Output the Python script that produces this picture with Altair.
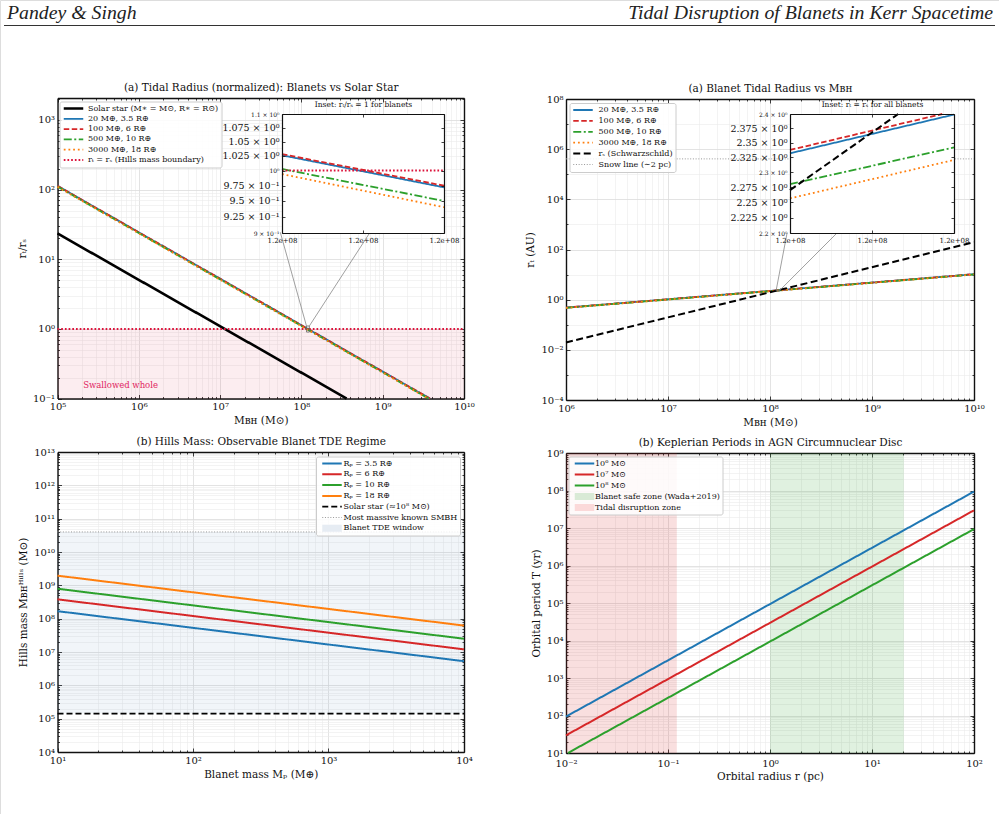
import altair as alt
import pandas as pd

W, H = 999, 814
FONT = "DejaVu Serif"
HFONT = "Liberation Serif"
SUP = str.maketrans("-0123456789", "⁻⁰¹²³⁴⁵⁶⁷⁸⁹")
GRID_MAJ = "#dcdcdc"
GRID_MIN = "#ebebeb"

# ============================ data ============================
# Panel (a) left: r_t / r_s versus M_BH (end points of straight log-log lines)
A_names = ["Solar star (M∗ = M⊙, R∗ = R⊙)", "20 M⊕, 3.5 R⊕", "100 M⊕, 6 R⊕",
           "500 M⊕, 10 R⊕", "3000 M⊕, 18 R⊕", "rₜ = rₛ (Hills mass boundary)"]
A_mbh = [[1e5, 3.6e8], [1e5, 3.80e9], [1e5, 3.81e9], [1e5, 3.67e9], [1e5, 3.62e9], [1e5, 1e10]]
A_ratio = [[23.5, 0.1], [113.1, 0.1], [113.3, 0.1], [110.5, 0.1], [109.5, 0.1], [1.0, 1.0]]
A_zone_mbh = [1e5, 1e10]
A_zone_ratio = [0.1, 1.0]
A_note = ["Swallowed whole"]
A_note_mbh = [2.07e5]
A_note_ratio = [0.156]
A_inset_names = A_names[1:]
A_inset_mbh = [[1.155e8, 1.252e8]] * 5
A_inset_ratio = [[1.026, 0.972], [1.028, 0.9747], [1.0026, 0.950], [0.994, 0.940], [1.0, 1.0]]
A_inset_yticks = [0.9, 0.925, 0.95, 0.975, 1.0, 1.025, 1.05, 1.075, 1.1]
A_inset_ylabels = ["9 × 10⁻¹", "9.25 × 10⁻¹", "9.5 × 10⁻¹", "9.75 × 10⁻¹", "10⁰",
                   "1.025 × 10⁰", "1.05 × 10⁰", "1.075 × 10⁰", "1.1 × 10⁰"]
A_inset_small = [0.9, 1.0, 1.1]
A_inset_xticks = [1.155e8, 1.2035e8, 1.252e8]
A_box_mbh = [1.155e8, 1.252e8]
A_box_ratio = [0.9, 1.1]
A_link_mbh0 = [1.155e8, 1.252e8]
A_link_ratio0 = [1.1, 1.1]
A_link_mbh1 = [5.5e7, 7.0e8]
A_link_ratio1 = [24.4, 24.4]

# Panel (a) right: tidal radius in AU versus M_BH
B_names = ["20 M⊕, 3.5 R⊕", "100 M⊕, 6 R⊕", "500 M⊕, 10 R⊕", "3000 M⊕, 18 R⊕",
           "rₛ (Schwarzschild)", "Snow line (∼2 pc)"]
B_mbh = [[1e6, 1e10]] * 6
B_rt = [[0.481, 10.35], [0.4822, 10.38], [0.472, 10.15], [0.468, 10.07], [0.0197, 197], [4.1e5, 4.1e5]]
B_inset_names = B_names[:5]
B_inset_mbh = [[1.15e8, 1.252e8], [1.15e8, 1.2447e8], [1.15e8, 1.252e8], [1.15e8, 1.252e8], [1.15e8, 1.2173e8]]
B_inset_rt = [[2.332, 2.399], [2.3377, 2.4], [2.280, 2.342], [2.2564, 2.3207], [2.270, 2.4]]
B_inset_yticks = [2.2, 2.225, 2.25, 2.275, 2.3, 2.325, 2.35, 2.375, 2.4]
B_inset_ylabels = ["2.2 × 10⁰", "2.225 × 10⁰", "2.25 × 10⁰", "2.275 × 10⁰", "2.3 × 10⁰",
                   "2.325 × 10⁰", "2.35 × 10⁰", "2.375 × 10⁰", "2.4 × 10⁰"]
B_inset_small = [2.2, 2.3, 2.4]
B_inset_xticks = [1.15e8, 1.201e8, 1.252e8]
B_box_mbh = [1.15e8, 1.252e8]
B_box_rt = [2.2, 2.4]
B_link_mbh0 = [1.15e8, 1.252e8]
B_link_rt0 = [2.4, 2.4]
B_link_mbh1 = [1.47e8, 4.54e8]
B_link_rt1 = [456, 456]

# Panel (b) left: Hills mass versus blanet mass
C_names = ["Rₚ = 3.5 R⊕", "Rₚ = 6 R⊕", "Rₚ = 10 R⊕", "Rₚ = 18 R⊕",
           "Solar star (≈10⁸ M⊙)", "Most massive known SMBH", "Blanet TDE window"]
C_mp = [[10, 1e4]] * 6
C_mhills = [[1.68e8, 5.3e6], [3.8e8, 1.2e7], [7.9e8, 2.5e7], [1.95e9, 6.2e7], [1.42e5, 1.42e5], [4e10, 4e10]]
C_window_mp = [10, 1e4]
C_window_m = [1.42e5, 4e10]

# Panel (b) right: Keplerian periods
D_names = ["10⁶ M⊙", "10⁷ M⊙", "10⁸ M⊙", "Blanet safe zone (Wada+2019)", "Tidal disruption zone"]
D_r = [[0.01, 100], [0.01, 100], [0.01044, 100]]
D_T = [[93.7, 9.37e7], [29.6, 2.96e7], [10, 9.37e6]]
D_safe_r = [1, 20.5]
D_tidal_r = [0.01, 0.122]
D_zone_T = [10, 1e9]

# ============================ styles ============================
SOLID, DASH, DASHDOT, DOT = [1, 0], [5.5, 2.5], [8, 2.5, 2, 2.5], [1.8, 2.9]
STY = {
    A_names[0]: ("#000000", SOLID, 2.6),
    "20 M⊕, 3.5 R⊕": ("#1f77b4", SOLID, 1.8),
    "100 M⊕, 6 R⊕": ("#d62728", DASH, 1.8),
    "500 M⊕, 10 R⊕": ("#2ca02c", DASHDOT, 1.8),
    "3000 M⊕, 18 R⊕": ("#ff7f0e", DOT, 1.8),
    A_names[5]: ("#dc143c", [1.7, 2.0], 2.0),
    "rₛ (Schwarzschild)": ("#000000", [7, 3.5], 2.0),
    "Snow line (∼2 pc)": ("#999999", [1, 1.7], 1.0),
    "Rₚ = 3.5 R⊕": ("#1f77b4", SOLID, 2.0),
    "Rₚ = 6 R⊕": ("#d62728", SOLID, 2.0),
    "Rₚ = 10 R⊕": ("#2ca02c", SOLID, 2.0),
    "Rₚ = 18 R⊕": ("#ff7f0e", SOLID, 2.0),
    "Solar star (≈10⁸ M⊙)": ("#000000", [6, 3], 1.8),
    "Most massive known SMBH": ("#999999", [1, 1.7], 1.0),
    "Blanet TDE window": ("#e6ecf3", SOLID, 7),
    "10⁶ M⊙": ("#1f77b4", SOLID, 2.0),
    "10⁷ M⊙": ("#d62728", SOLID, 2.0),
    "10⁸ M⊙": ("#2ca02c", SOLID, 2.0),
    "Blanet safe zone (Wada+2019)": ("#d9ead6", SOLID, 7),
    "Tidal disruption zone": ("#fbd9d9", SOLID, 7),
}

# ============================ geometry ============================
def geo(xd, xr, yd, yr, xt="log", yt="log"):
    return dict(xd=xd, xr=xr, yd=yd, yr=yr, xt=xt, yt=yt)

PA = geo([1e5, 1e10], [57.5, 464], [0.1, 2070], [398.5, 98])
PB = geo([1e6, 1e10], [566, 974], [1e-4, 1e8], [400, 99])
PC = geo([10, 1e4], [57.5, 464], [1e4, 1e13], [752, 452])
PD = geo([0.01, 100], [566, 974], [10, 1e9], [753, 453])
IA = geo([1.155e8, 1.252e8], [282, 444], [0.9, 1.1], [233, 114], xt="linear")
IB = geo([1.15e8, 1.252e8], [790, 954], [2.2, 2.4], [233, 114], xt="linear")


def scale(t, d, r):
    kw = dict(type=t, domain=d, range=r, nice=False)
    if t == "linear":
        kw["zero"] = False
    return alt.Scale(**kw)


def X(P, field="x", axis=None):
    return alt.X(f"{field}:Q", scale=scale(P["xt"], P["xd"], P["xr"]), axis=axis)


def Y(P, field="y", axis=None):
    return alt.Y(f"{field}:Q", scale=scale(P["yt"], P["yd"], P["yr"]), axis=axis)


def decades(a, b, step=1):
    out, e = [], a
    while e <= b:
        out.append(10.0 ** e)
        e += step
    return out


def minors(a, b):
    out = []
    for e in range(a, b):
        for k in range(2, 10):
            out.append(k * 10.0 ** e)
    return out


def pow_expr(lo, hi):
    s = "''"
    for e in range(hi, lo - 1, -1):
        s = f"round(log(datum.value)/LN10)=={e}?'10{str(e).translate(SUP)}':{s}"
    return s


def map_expr(values, labels):
    s = "''"
    for v, l in reversed(list(zip(values, labels))):
        s = f"abs(datum.value-({v}))<{abs(v) * 1e-6 + 1e-12}?'{l}':{s}"
    return s


def mk_axis(orient, edge, values, labels=False, expr=None, lsize=10.0, lpad=7.0,
            tick=4.0, domain=False, grid=False, gcolor=GRID_MAJ, gwidth=0.8,
            title=None, tsize=10.5, tpad=4.0, z=0, dwidth=1.4):
    off = {"left": -edge, "top": -edge, "right": edge - W, "bottom": edge - H}[orient]
    kw = dict(orient=orient, offset=off, values=values, grid=grid, domain=domain,
              ticks=True, tickSize=alt.ExprRef(expr=f"{-tick}"), tickColor="#111111",
              tickWidth=0.8, labels=labels, zindex=z, title=title)
    if grid:
        kw.update(gridColor=gcolor, gridWidth=gwidth)
    if domain:
        kw.update(domainColor="#111111", domainWidth=dwidth)
    if labels:
        kw.update(labelExpr=expr, labelFont=FONT, labelFontSize=lsize, labelColor="#111111",
                  labelPadding=lpad, labelOverlap=False, labelFlush=False)
    if title is not None:
        kw.update(titleFont=FONT, titleFontSize=tsize, titleFontWeight="normal",
                  titleColor="#111111", titlePadding=tpad)
    return alt.Axis(**kw)


def carrier(P, xaxis, yaxis):
    df = pd.DataFrame({"x": [P["xd"][0]], "y": [P["yd"][0]]})
    return alt.Chart(df).mark_point(opacity=0, size=1).encode(x=X(P, axis=xaxis), y=Y(P, axis=yaxis))


def frame(P, xmaj, xmin, ymaj, ymin, xexpr, yexpr, title, xtitle, ytitle, xtpad=4, ytpad=5, xlpad=7):
    xl, xr = P["xr"]
    yb, yt = P["yr"]
    return [
        carrier(P, mk_axis("top", yt, xmin, tick=2, grid=True, gcolor=GRID_MIN, gwidth=0.6),
                mk_axis("left", xl, ymin, tick=2, grid=True, gcolor=GRID_MIN, gwidth=0.6)),
        carrier(P, mk_axis("bottom", yb, xmin, tick=2), mk_axis("right", xr, ymin, tick=2)),
        carrier(P, mk_axis("top", yt, xmaj, domain=True, grid=True, title=title, tsize=10.5, tpad=5),
                mk_axis("right", xr, ymaj, domain=True)),
        carrier(P, mk_axis("bottom", yb, xmaj, labels=True, expr=xexpr, lpad=xlpad, domain=True,
                           title=xtitle, tpad=xtpad),
                mk_axis("left", xl, ymaj, labels=True, expr=yexpr, lpad=7, domain=True, grid=True,
                        title=ytitle, tpad=ytpad)),
    ]


def inset_frame(P, xticks, yticks, ylabels, small, title):
    xl, xr = P["xr"]
    yb, yt = P["yr"]
    test = " || ".join(f"abs(datum.value-({v}))<1e-9" for v in small)
    lfs = {"condition": {"test": test, "value": 6}, "value": 9.5}
    return [
        carrier(P, mk_axis("top", yt, xticks, tick=3, domain=True, title=title, tsize=7.5, tpad=5,
                           z=1, dwidth=1.2),
                mk_axis("right", xr, yticks, tick=3, domain=True, z=1, dwidth=1.2)),
        carrier(P, mk_axis("bottom", yb, xticks, labels=True, expr="'1.2e+08'", lsize=7, lpad=6, tick=3,
                           domain=True, z=1, dwidth=1.2),
                mk_axis("left", xl, yticks, labels=True, expr=map_expr(yticks, ylabels),
                        lsize=lfs, lpad=6, tick=3, domain=True, z=1, dwidth=1.2)),
    ]


def line_df(names, xs, ys):
    rows = []
    for n, xx, yy in zip(names, xs, ys):
        for i, (a, b) in enumerate(zip(xx, yy)):
            rows.append({"s": n, "x": a, "y": b, "o": i})
    return pd.DataFrame(rows)


def mk_legend(x, y, rowpad=1.5, lo=3.0):
    return alt.Legend(orient="none", legendX=x, legendY=y, title=None, columns=1,
                      symbolType="stroke", symbolSize=380, clipHeight=9, rowPadding=rowpad,
                      labelFont=FONT, labelFontSize=8, labelColor="#111111", labelLimit=400,
                      labelOffset=alt.ExprRef(expr=f"{lo}"),
                      fillColor="rgba(255,255,255,0.85)", strokeColor="#cccccc",
                      cornerRadius=2, padding=2.5)


def lines(P, names, xs, ys, dom=None, legend=None):
    dom = dom or names
    df = line_df(names, xs, ys)
    return alt.Chart(df).mark_line(strokeCap="butt").encode(
        x=X(P), y=Y(P),
        color=alt.Color("s:N", scale=alt.Scale(domain=dom, range=[STY[n][0] for n in dom]), legend=legend),
        strokeDash=alt.StrokeDash("s:N", scale=alt.Scale(domain=dom, range=[STY[n][1] for n in dom]),
                                  legend=legend),
        strokeWidth=alt.StrokeWidth("s:N", scale=alt.Scale(type="ordinal", domain=dom,
                                                            range=[STY[n][2] for n in dom]), legend=legend),
        order=alt.Order("o:Q"),
    )


def band(P, xv, yv, color, opacity):
    df = pd.DataFrame({"x": [xv[0]], "x2": [xv[1]], "y": [yv[0]], "y2": [yv[1]]})
    return alt.Chart(df).mark_rect(color=color, opacity=opacity).encode(
        x=X(P), x2="x2:Q", y=Y(P), y2="y2:Q")


def box(P, xv, yv):
    df = pd.DataFrame({"x": [xv[0]], "x2": [xv[1]], "y": [yv[0]], "y2": [yv[1]]})
    return alt.Chart(df).mark_rect(fillOpacity=0, stroke="#666666", strokeWidth=0.8).encode(
        x=X(P), x2="x2:Q", y=Y(P), y2="y2:Q")


def links(P, x0, y0, x1, y1):
    df = pd.DataFrame({"x": x0, "y": y0, "x2": x1, "y2": y1})
    return alt.Chart(df).mark_rule(color="#888888", strokeWidth=0.8).encode(
        x=X(P), y=Y(P), x2="x2:Q", y2="y2:Q")


def white(P):
    df = pd.DataFrame({"x": [P["xd"][0]], "x2": [P["xd"][1]], "y": [P["yd"][0]], "y2": [P["yd"][1]]})
    return alt.Chart(df).mark_rect(color="white", opacity=1).encode(
        x=X(P), x2="x2:Q", y=Y(P), y2="y2:Q")


# ============================ header ============================
hdr = pd.DataFrame({"t": ["Pandey & Singh"]})
hdr2 = pd.DataFrame({"t": ["Tidal Disruption of Blanets in Kerr Spacetime"]})
header = [
    alt.Chart(hdr).mark_text(font=HFONT, fontStyle="italic", fontSize=19.8, align="left",
                             baseline="alphabetic", color="#222222").encode(
        text="t:N", x=alt.value(7), y=alt.value(19)),
    alt.Chart(hdr2).mark_text(font=HFONT, fontStyle="italic", fontSize=19.8, align="right",
                              baseline="alphabetic", color="#222222").encode(
        text="t:N", x=alt.value(993), y=alt.value(19)),
    alt.Chart(hdr).mark_rule(color="#333333", strokeWidth=1.1).encode(
        x=alt.value(4), x2=alt.value(995), y=alt.value(25.5)),
]

layers = list(header)

# ---------------- panel A ----------------
layers += frame(PA, decades(5, 10), minors(5, 10), decades(-1, 3), minors(-1, 4),
                pow_expr(5, 10), pow_expr(-1, 3),
                "(a) Tidal Radius (normalized): Blanets vs Solar Star", "Mʙʜ (M⊙)", "rₜ/rₛ")
layers.append(band(PA, A_zone_mbh, A_zone_ratio, "#dc143c", 0.08))
layers.append(lines(PA, A_names, A_mbh, A_ratio, legend=mk_legend(59.5, 101.5, rowpad=1.3)))
note = pd.DataFrame({"t": A_note, "x": A_note_mbh, "y": A_note_ratio})
layers.append(alt.Chart(note).mark_text(font=FONT, fontSize=8.5, color="#e0245e", align="left",
                                        baseline="middle").encode(x=X(PA), y=Y(PA), text="t:N"))
layers.append(box(PA, A_box_mbh, A_box_ratio))
layers.append(links(PA, A_link_mbh0, A_link_ratio0, A_link_mbh1, A_link_ratio1))
layers.append(white(IA))
layers.append(lines(IA, A_inset_names, A_inset_mbh, A_inset_ratio))
layers += inset_frame(IA, A_inset_xticks, A_inset_yticks, A_inset_ylabels, A_inset_small,
                      "Inset: rₜ/rₛ = 1 for blanets")

# ---------------- panel B ----------------
layers += frame(PB, decades(6, 10), minors(6, 10), decades(-4, 8, 2), decades(-3, 7, 2),
                pow_expr(6, 10), pow_expr(-4, 8),
                "(a) Blanet Tidal Radius vs Mʙʜ", "Mʙʜ (M⊙)", "rₜ (AU)")
layers.append(lines(PB, B_names, B_mbh, B_rt, legend=mk_legend(569.5, 103, rowpad=1.9, lo=4.5)))
layers.append(box(PB, B_box_mbh, B_box_rt))
layers.append(links(PB, B_link_mbh0, B_link_rt0, B_link_mbh1, B_link_rt1))
layers.append(white(IB))
layers.append(lines(IB, B_inset_names, B_inset_mbh, B_inset_rt))
layers += inset_frame(IB, B_inset_xticks, B_inset_yticks, B_inset_ylabels, B_inset_small,
                      "Inset: rₜ = rₛ for all blanets")

# ---------------- panel C ----------------
layers += frame(PC, decades(1, 4), minors(1, 4), decades(4, 13), minors(4, 13),
                pow_expr(1, 4), pow_expr(4, 13),
                "(b) Hills Mass: Observable Blanet TDE Regime", "Blanet mass Mₚ (M⊕)",
                "Hills mass Mʙʜᴴⁱˡˡˢ (M⊙)")
layers.append(band(PC, C_window_mp, C_window_m, "#4a7ab0", 0.08))
layers.append(lines(PC, C_names[:6], C_mp, C_mhills, dom=C_names,
                    legend=mk_legend(316, 456.5, rowpad=1.8, lo=-2.0)))

# ---------------- panel D ----------------
layers += frame(PD, decades(-2, 2), minors(-2, 2), decades(1, 9), minors(1, 9),
                pow_expr(-2, 2), pow_expr(1, 9),
                "(b) Keplerian Periods in AGN Circumnuclear Disc", "Orbital radius r (pc)",
                "Orbital period T (yr)", xtpad=3, xlpad=9)
layers.append(band(PD, D_tidal_r, D_zone_T, "#d62728", 0.15))
layers.append(band(PD, D_safe_r, D_zone_T, "#2ca02c", 0.15))
layers.append(lines(PD, D_names[:3], D_r, D_T, dom=D_names,
                    legend=mk_legend(568.5, 456.5, rowpad=2.0, lo=-3.0)))

chart = alt.layer(*layers).resolve_scale(
    x="independent", y="independent", color="independent",
    strokeDash="independent", strokeWidth="independent",
).properties(
    width=W, height=H, padding=0, autosize=alt.AutoSizeParams(type="none"),
).configure_view(stroke=None).configure(font=FONT, background="white")

chart.save("out.html", embed_options={"renderer": "svg", "actions": False})
